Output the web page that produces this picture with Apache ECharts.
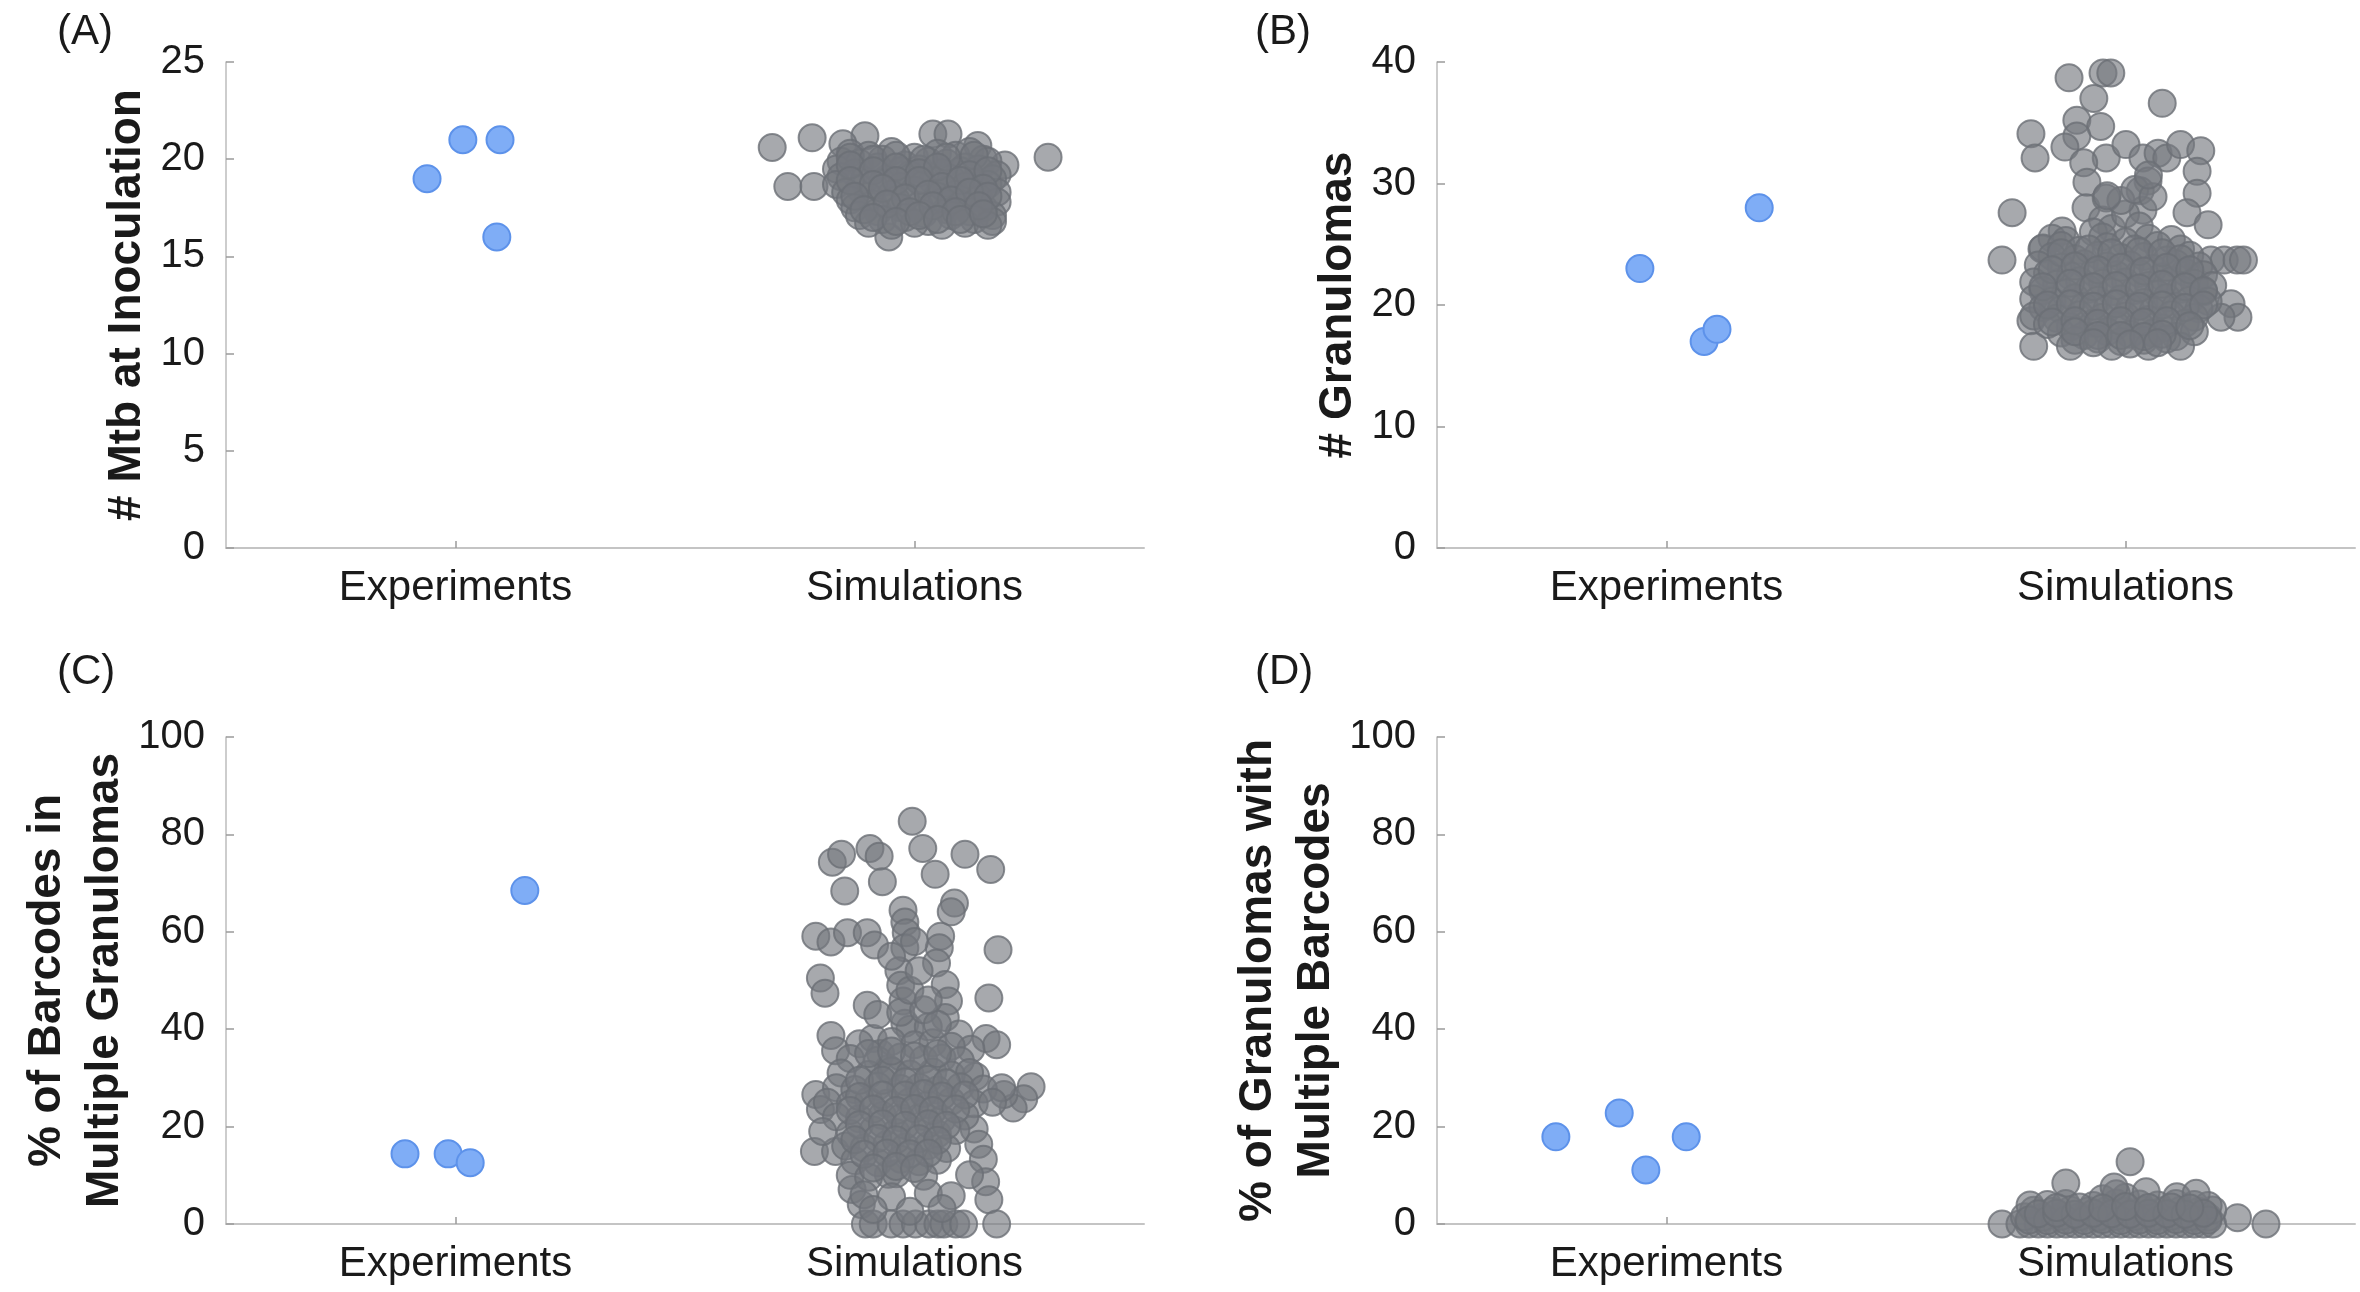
<!DOCTYPE html>
<html><head><meta charset="utf-8">
<script src="https://cdn.jsdelivr.net/npm/echarts@6/dist/echarts.min.js"></script>
<style>html,body{margin:0;padding:0;background:#fff}#c{width:2360px;height:1292px}</style>
</head><body><div id="c"></div><script>
const categories = ['Experiments', 'Simulations'];
const panelLabels = ['(A)', '(B)', '(C)', '(D)'];
const yTitles = ['# Mtb at Inoculation', '# Granulomas', '% of Barcodes in\nMultiple Granulomas', '% of Granulomas with\nMultiple Barcodes'];
const yMax = [25, 40, 100, 100];
const yStep = [5, 10, 20, 20];

// Experiments: [jittered x position (1 = Experiments), value]
const expA = [[1.016, 21], [1.097, 21], [0.938, 19], [1.090, 16]];
const expB = [[0.942, 23], [1.202, 28], [1.082, 17], [1.110, 18]];
const expC = [[0.890, 14.4], [0.984, 14.4], [1.032, 12.6], [1.151, 68.5]];
const expD = [[0.759, 17.9], [0.897, 22.8], [0.955, 11.1], [1.043, 17.9]];

// Simulations: [jittered x position (2 = Simulations), value]
const simA = [
[1.69,20.6],[1.777,21.1],[1.724,18.6],[1.781,18.6],[1.892,21.2],[2.291,20.1],[2.197,19.7],[2.138,20.7],[2.04,21.3],[2.073,21.3],[1.944,16.0],[1.844,20.8],
[1.86,20.3],[1.90,20.2],[1.95,20.4],[2.00,20.1],[2.05,20.3],[2.09,20.2],[2.12,20.4],[2.15,20.0],
[1.84,19.9],[1.88,19.8],[1.93,20.0],[1.98,19.7],[2.03,19.9],[2.07,19.8],[2.11,19.6],[2.16,19.9],
[1.83,19.5],[1.87,19.3],[1.92,19.6],[1.97,19.4],[2.01,19.5],[2.06,19.3],[2.10,19.4],[2.14,19.5],[2.18,19.2],
[1.84,19.1],[1.89,18.9],[1.94,19.0],[1.99,19.2],[2.04,18.9],[2.08,19.0],[2.13,18.8],[2.17,19.0],
[1.83,18.7],[1.88,18.5],[1.93,18.8],[1.97,18.6],[2.02,18.7],[2.07,18.4],[2.11,18.6],[2.16,18.7],[2.18,18.3],
[1.85,18.3],[1.90,18.1],[1.95,18.2],[2.00,18.4],[2.05,18.1],[2.09,18.2],[2.14,18.0],[2.18,17.8],
[1.86,17.9],[1.91,17.7],[1.96,17.9],[2.01,17.6],[2.06,17.8],[2.10,17.7],[2.15,17.5],
[1.87,17.5],[1.92,17.3],[1.97,17.5],[2.02,17.2],[2.07,17.4],[2.12,17.3],[2.17,17.1],
[1.88,17.1],[1.93,16.9],[1.98,17.0],[2.03,16.8],[2.08,17.1],[2.13,16.9],[2.17,16.8],
[1.90,16.7],[1.95,16.6],[2.00,16.7],[2.06,16.6],[2.11,16.7],[2.16,16.6],
[1.86,20.1],[1.91,20.0],[1.96,20.2],[2.02,20.0],[2.07,20.1],[2.13,20.2],
[1.86,19.7],[1.91,19.4],[1.96,19.6],[2.01,19.3],[2.05,19.6],[2.12,19.2],[2.16,19.4],
[1.86,18.9],[1.91,18.7],[1.96,18.9],[2.01,18.9],[2.06,18.6],[2.10,18.9],[2.15,18.5],
[1.87,18.1],[1.93,18.5],[1.98,18.0],[2.03,18.2],[2.08,17.9],[2.12,18.3],[2.16,18.1],
[1.89,17.4],[1.94,17.7],[1.99,17.3],[2.04,17.6],[2.09,17.3],[2.14,17.6],
[1.91,17.0],[1.96,16.8],[2.01,17.1],[2.05,16.9],[2.10,16.9],[2.15,17.2]
];
const simB = [
[1.877,38.7],[1.951,39.1],[1.968,39.1],[1.931,37.0],[2.080,36.6],[1.894,35.2],[1.946,34.7],[1.794,34.1],[1.894,33.9],[1.868,33.0],
[1.803,32.1],[1.958,32.1],[2.001,33.2],[2.038,32.1],[2.071,32.5],[2.090,32.1],[2.120,33.2],[2.164,32.7],[2.156,31.0],[1.909,31.7],
[1.916,30.1],[2.049,30.2],[2.032,29.4],[2.156,29.2],[1.914,28.0],[1.958,28.8],[2.038,27.8],[2.134,27.6],[2.180,26.6],[1.753,27.6],
[1.731,23.7],[1.818,24.6],[1.862,26.1],[2.186,23.7],[2.215,23.7],[2.243,23.7],[2.257,23.7],[2.230,20.1],[2.245,19.0],[2.208,19.0],[1.794,18.7],
[1.95,27.0],[1.97,26.3],[2.00,27.5],[1.93,26.0],[2.03,26.5],[1.99,28.6],[2.02,29.5],[1.96,29.0],[2.06,28.9],[2.05,30.7],
[1.84,25.5],[1.87,25.3],[1.95,25.6],[2.00,25.2],[2.05,25.5],[2.10,25.4],
[1.82,24.7],[1.86,24.9],[1.90,24.5],[1.96,24.8],[2.02,24.6],[2.07,24.9],[2.12,24.6],
[1.84,24.0],[1.89,23.8],[1.94,24.1],[1.99,23.9],[2.04,24.0],[2.09,23.7],[2.14,24.1],
[1.81,23.3],[1.86,23.1],[1.91,23.4],[1.96,23.2],[2.01,23.3],[2.06,23.0],[2.11,23.4],[2.16,23.2],
[1.83,22.6],[1.88,22.4],[1.93,22.7],[1.98,22.5],[2.03,22.6],[2.08,22.3],[2.13,22.7],[2.17,22.5],
[1.80,21.9],[1.85,21.7],[1.90,22.0],[1.95,21.8],[2.00,21.9],[2.05,21.6],[2.10,22.0],[2.15,21.8],[2.19,21.6],
[1.82,21.2],[1.87,21.0],[1.92,21.3],[1.97,21.1],[2.02,21.2],[2.07,20.9],[2.12,21.3],[2.17,21.1],
[1.80,20.5],[1.84,20.3],[1.89,20.6],[1.94,20.4],[1.99,20.5],[2.04,20.2],[2.09,20.6],[2.14,20.4],[2.18,20.3],
[1.82,19.8],[1.86,19.6],[1.91,19.9],[1.96,19.7],[2.01,19.8],[2.06,19.5],[2.11,19.9],[2.16,19.7],
[1.80,19.1],[1.85,18.9],[1.90,19.2],[1.95,19.0],[2.00,19.1],[2.05,18.8],[2.10,19.2],[2.15,19.0],
[1.83,18.4],[1.88,18.2],[1.93,18.5],[1.98,18.3],[2.03,18.4],[2.08,18.1],[2.13,18.5],
[1.86,17.7],[1.91,17.5],[1.96,17.8],[2.01,17.6],[2.06,17.7],[2.11,17.4],[2.15,17.8],
[1.89,17.1],[1.94,17.2],[1.99,17.0],[2.04,17.1],[2.09,17.2],
[1.80,16.6],[1.88,16.6],[1.97,16.6],[2.05,16.6],[2.12,16.6],
[1.86,24.3],[1.92,24.6],[1.97,24.3],[2.03,24.4],[2.08,24.3],[2.12,23.8],
[1.84,22.9],[1.89,23.2],[1.94,22.9],[1.99,23.1],[2.04,22.8],[2.09,23.1],[2.14,22.9],
[1.82,21.5],[1.88,21.8],[1.93,21.5],[1.98,21.6],[2.03,21.4],[2.08,21.7],[2.13,21.5],[2.17,21.2],
[1.83,20.0],[1.88,20.1],[1.93,19.9],[1.98,20.1],[2.03,19.9],[2.08,20.0],[2.13,19.8],[2.17,20.0],
[1.84,18.6],[1.89,18.7],[1.94,18.5],[1.99,18.7],[2.04,18.6],[2.09,18.7],[2.14,18.3],
[1.89,17.8],[1.94,17.5],[1.99,17.5],[2.04,17.4],[2.08,17.6],
[1.93,16.9],[2.01,16.8],[2.07,16.9]
];
const simC = [
[1.995,82.7],[1.821,74.3],[1.841,75.9],[1.903,77.1],[1.923,75.5],[1.930,70.3],[2.018,77.1],[2.045,71.8],[2.110,75.9],[2.166,72.8],
[2.087,65.9],[2.080,64.1],[1.848,68.4],[1.785,59.1],[1.818,57.9],[1.854,59.8],[1.897,59.8],[1.913,57.3],
[1.975,64.4],[1.979,62.0],[1.982,59.8],[1.979,56.7],[2.057,59.1],[2.054,56.7],[2.048,53.6],[2.182,56.3],
[1.795,50.5],[1.805,47.4],[1.897,44.9],[1.966,52.0],[1.970,49.0],[1.975,45.8],[1.979,41.2],
[2.067,49.2],[2.074,45.8],[2.067,42.4],[2.162,46.4],[2.156,38.1],[2.179,36.8],[1.818,38.7],[1.828,35.6],
[1.910,38.1],[1.926,35.0],[1.943,31.9],[2.097,39.0],[2.123,35.9],[2.133,30.3],
[2.254,28.2],[2.238,25.7],[2.215,23.8],[2.195,26.6],[1.785,26.6],[1.795,23.5],[1.782,14.9],[1.828,14.9],
[2.13,19.5],[2.14,16.4],[2.15,13.3],[2.155,8.7],[2.162,5.0],[2.179,0],[1.864,7.1],[1.884,4.0],[1.943,10.2],
[1.893,0],[1.910,0],[1.949,0],[1.975,0],[2.002,0],[2.031,0],[2.051,0],[2.064,0],[2.090,0],[2.107,0],
[1.99,40],[2.03,40.5],
[1.88,37],[1.95,37.5],[2.00,36.8],[2.04,37.2],[2.08,36.5],
[1.86,34],[1.92,33.6],[1.97,34.3],[2.02,33.8],[2.06,34.1],[2.10,33.5],
[1.84,31],[1.90,30.7],[1.95,31.4],[1.99,30.8],[2.04,31.2],[2.08,30.6],[2.12,31.1],
[1.83,28],[1.87,27.6],[1.92,28.3],[1.97,27.8],[2.01,28.1],[2.05,27.5],[2.10,28.2],[2.15,27.7],[2.19,28.0],
[1.81,25],[1.86,24.6],[1.90,25.3],[1.94,24.8],[1.99,25.1],[2.03,24.5],[2.08,25.2],[2.13,24.7],[2.17,25.0],
[1.83,22],[1.88,21.6],[1.93,22.3],[1.97,21.8],[2.02,22.1],[2.06,21.5],[2.11,22.2],
[1.80,19],[1.86,18.6],[1.91,19.3],[1.96,18.8],[2.00,19.1],[2.05,18.5],[2.09,19.2],
[1.85,16],[1.89,15.6],[1.94,16.3],[1.98,15.8],[2.03,16.1],[2.07,15.5],
[1.87,13],[1.92,12.6],[1.97,13.3],[2.01,12.8],[2.05,13.1],
[1.86,10],[1.90,9.6],[1.96,10.3],[2.02,9.8],[2.12,10.1],
[1.89,6],[1.95,5.6],[2.03,6.3],[2.08,5.8],
[1.91,3],[1.99,2.6],[2.06,3.2],
[1.92,43],[1.97,43.5],[2.02,44],[2.05,41],
[1.90,35],[1.95,35.5],[2.00,34.5],[2.05,35],
[1.88,29.5],[1.93,29.5],[1.98,29.2],[2.03,29.7],[2.07,29],
[1.88,26.2],[1.93,26.5],[1.98,26.5],[2.02,26.8],[2.06,26.3],[2.11,26.5],
[1.86,23.3],[1.91,23.6],[1.96,23.3],[2.00,23.7],[2.04,23.3],[2.09,23.6],
[1.88,20.4],[1.93,20.6],[1.98,20.3],[2.03,20.6],[2.07,20.3],
[1.87,17.3],[1.92,17.6],[1.96,17.3],[2.01,17.5],[2.05,17.2],
[1.89,14.3],[1.94,14.6],[1.99,14.4],[2.03,14.6],
[1.91,11.5],[1.96,11.8],[2.00,11.4],
[1.99,48],[2.01,52],[2.03,46],[1.95,55],[2.00,58]
];
const simD = [
[1.731,0],[1.77,0],[1.79,0],[1.81,0],[1.83,0],[1.85,0],[1.87,0],[1.89,0],[1.91,0],[1.93,0],[1.95,0],[1.97,0],
[1.99,0],[2.01,0],[2.03,0],[2.05,0],[2.07,0],[2.09,0],[2.11,0],[2.13,0],[2.15,0],[2.17,0],[2.19,0],[2.306,0],
[1.78,1.5],[1.82,1.4],[1.86,1.6],[1.90,1.5],[1.94,1.4],[1.98,1.6],[2.02,1.5],[2.06,1.4],[2.10,1.6],[2.14,1.5],[2.18,1.4],[2.244,1.3],
[1.80,2.8],[1.84,2.6],[1.88,2.9],[1.92,2.7],[1.96,2.8],[2.00,2.6],[2.04,2.9],[2.08,2.7],[2.12,2.8],[2.16,2.6],[2.19,2.9],
[1.792,3.9],[1.83,4.0],[1.87,4.2],[1.93,3.8],[1.98,4.3],[2.03,4.1],[2.07,3.9],[2.11,4.2],[2.15,4.0],[2.18,3.8],
[1.95,5.2],[2.00,5.5],[2.045,6.6],[2.112,5.6],[2.154,6.3],[1.98,6.2],
[1.975,7.6],[1.870,8.4],[2.010,12.8],
[1.79,0.8],[1.83,0.7],[1.87,0.8],[1.91,0.7],[1.95,0.9],[1.99,0.7],[2.03,0.8],[2.07,0.7],[2.11,0.9],[2.15,0.7],[2.18,0.8],
[1.81,2.1],[1.85,2.2],[1.89,2.0],[1.93,2.2],[1.97,2.1],[2.01,2.0],[2.05,2.2],[2.09,2.1],[2.13,2.0],[2.17,2.2],
[1.85,3.4],[1.90,3.5],[1.95,3.3],[2.00,3.6],[2.05,3.4],[2.10,3.5],[2.14,3.3]
];

const expData = [expA, expB, expC, expD];
const simData = [simA, simB, simC, simD];

const FONT = 'Liberation Sans, Arial, Helvetica, sans-serif';
const gridPos = [
  {left: 226, top: 62, width: 918, height: 486},
  {left: 1437, top: 62, width: 918, height: 486},
  {left: 226, top: 737, width: 918, height: 487},
  {left: 1437, top: 737, width: 918, height: 487}
];
const titlePos = [[52, 6], [1250, 6], [52, 646], [1250, 646]];
const nameGaps = [63, 61, 84, 88];

const option = {
  backgroundColor: '#ffffff',
  animation: false,
  title: panelLabels.map((t, i) => ({
    text: t, left: titlePos[i][0], top: titlePos[i][1],
    textStyle: {fontFamily: FONT, fontSize: 42, fontWeight: 'normal', color: '#1a1a1a'}
  })),
  grid: gridPos.map(g => Object.assign({containLabel: false, outerBoundsMode: 'none'}, g)),
  xAxis: [],
  yAxis: [],
  series: []
};

for (let i = 0; i < 4; i++) {
  option.xAxis.push({
    type: 'category', gridIndex: i, data: categories, boundaryGap: true,
    axisLine: {show: true, lineStyle: {color: '#c4c4c4', width: 2}},
    axisTick: {show: true, inside: true, alignWithLabel: true, length: 7, lineStyle: {color: '#9a9a9a', width: 1.5}},
    axisLabel: {fontFamily: FONT, fontSize: 42, color: '#1a1a1a', margin: 19},
    splitLine: {show: false}
  });
  option.xAxis.push({
    type: 'value', gridIndex: i, min: 0.5, max: 2.5, show: false
  });
  option.yAxis.push({
    type: 'value', gridIndex: i, min: 0, max: yMax[i], interval: yStep[i],
    name: yTitles[i], nameLocation: 'middle', nameGap: nameGaps[i], nameRotate: 90,
    nameTextStyle: {fontFamily: FONT, fontSize: 46, fontWeight: 'bold', color: '#1a1a1a', lineHeight: 58},
    axisLine: {show: true, lineStyle: {color: '#bdbdbd', width: 1.5}},
    axisTick: {show: true, inside: true, length: 8, lineStyle: {color: '#9a9a9a', width: 1.5}},
    axisLabel: {fontFamily: FONT, fontSize: 40, color: '#1a1a1a', margin: 21},
    splitLine: {show: false}
  });
  option.series.push({
    type: 'scatter', xAxisIndex: 2 * i + 1, yAxisIndex: i, data: expData[i],
    symbol: 'circle', symbolSize: 27,
    itemStyle: {color: '#7fadf6', borderColor: '#5d92ea', borderWidth: 2, opacity: 1},
    z: 3
  });
  option.series.push({
    type: 'scatter', xAxisIndex: 2 * i + 1, yAxisIndex: i, data: simData[i],
    symbol: 'circle', symbolSize: 27,
    itemStyle: {color: 'rgba(118,121,127,0.64)', borderColor: 'rgba(108,111,117,0.8)', borderWidth: 2, opacity: 1},
    z: 3
  });
}

const chart = echarts.init(document.getElementById('c'), null, {renderer: 'canvas'});
chart.setOption(option);
</script></body></html>
